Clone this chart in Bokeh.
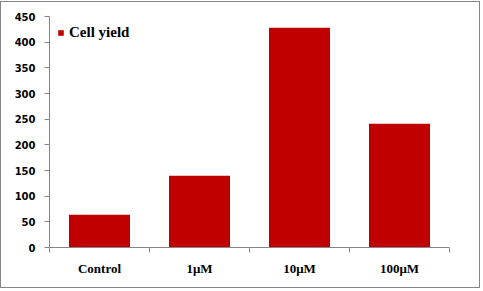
import numpy as np
from bokeh.plotting import figure
from bokeh.models import ColumnDataSource, Range1d, FixedTicker, Legend, LegendItem
from bokeh.embed import file_html
from bokeh.resources import INLINE

categories = ["Control", "1\u03bcM", "10\u03bcM", "100\u03bcM"]
cell_yield = [64, 140, 428, 241]
y_ticks = [0, 50, 100, 150, 200, 250, 300, 350, 400, 450]
series_name = "Cell yield"

n = len(categories)
xs = list(np.arange(1, n + 1))
src = ColumnDataSource(dict(x=xs, top=cell_yield, name=categories))

axis_color = "#868686"

p = figure(width=480, height=287, output_backend="svg", toolbar_location=None,
           x_range=Range1d(0.5, n + 0.5), y_range=Range1d(0, 450),
           min_border_left=48, min_border_right=32, min_border_top=14, min_border_bottom=42)
p.styles = {"border": "1px solid " + axis_color, "margin-top": "1px"}
p.background_fill_color = "white"
p.border_fill_color = "white"
p.outline_line_color = None
p.xgrid.visible = False
p.ygrid.visible = False

r = p.vbar(x="x", top="top", width=0.61, bottom=0, source=src,
           fill_color="#C00000", line_color=None)

# x axis
xa = p.xaxis[0]
xa.ticker = FixedTicker(ticks=xs, minor_ticks=list(np.arange(0.5, n + 1, 1.0)))
xa.major_label_overrides = {int(x): c for x, c in zip(xs, categories)}
xa.axis_line_color = axis_color
xa.major_tick_line_color = None
xa.major_tick_out = 0
xa.major_tick_in = 0
xa.minor_tick_line_color = axis_color
xa.minor_tick_out = 5
xa.minor_tick_in = 0
xa.major_label_standoff = 8
xa.major_label_text_font = "Liberation Serif"
xa.major_label_text_font_style = "bold"
xa.major_label_text_font_size = "13px"
xa.major_label_text_color = "black"

# y axis
ya = p.yaxis[0]
ya.ticker = FixedTicker(ticks=y_ticks)
ya.axis_line_color = axis_color
ya.major_tick_line_color = axis_color
ya.major_tick_out = 5
ya.major_tick_in = 0
ya.minor_tick_line_color = None
ya.major_label_standoff = 9
ya.major_label_text_font = "DejaVu Sans"
ya.major_label_text_font_style = "bold"
ya.major_label_text_font_size = "10px"
ya.major_label_text_color = "black"

legend = Legend(items=[LegendItem(label=series_name, renderers=[r])],
                location="top_left", margin=8, padding=2,
                glyph_width=7, glyph_height=7, label_standoff=5, label_height=16,
                border_line_color=None, background_fill_alpha=0,
                label_text_font="Liberation Serif", label_text_font_style="bold",
                label_text_font_size="15px", label_text_color="black")
p.add_layout(legend, "center")

open("out.html", "w").write(file_html(p, INLINE))
